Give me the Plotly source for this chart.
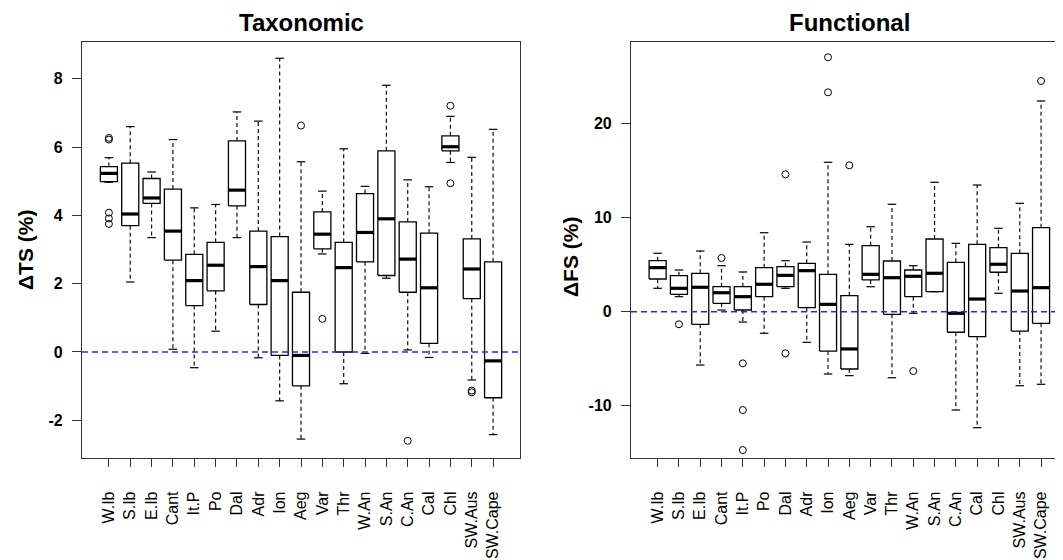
import plotly.graph_objects as go

regions = ["W.Ib", "S.Ib", "E.Ib", "Cant", "It.P", "Po", "Dal", "Adr", "Ion", "Aeg",
           "Var", "Thr", "W.An", "S.An", "C.An", "Cal", "Chl", "SW.Aus", "SW.Cape"]

# taxonomic change (%), box stats
tax_low = [4.97, 2.05, 3.35, 0.08, -0.46, 0.61, 3.35, -0.17, -1.43, -2.55,
           2.87, -0.93, -0.04, 2.16, 0.06, -0.16, 5.55, -0.82, -2.42]
tax_q1 = [4.99, 3.70, 4.35, 2.69, 1.36, 1.79, 4.28, 1.39, -0.10, -0.99,
          3.02, 0.00, 2.64, 2.24, 1.75, 0.25, 5.89, 1.56, -1.34]
tax_med = [5.23, 4.04, 4.51, 3.54, 2.09, 2.54, 4.74, 2.50, 2.09, -0.10,
           3.45, 2.47, 3.50, 3.90, 2.72, 1.88, 6.01, 2.43, -0.26]
tax_q3 = [5.43, 5.53, 5.08, 4.77, 2.86, 3.21, 6.18, 3.54, 3.38, 1.75,
          4.10, 3.21, 4.64, 5.89, 3.81, 3.48, 6.33, 3.31, 2.64]
tax_high = [5.69, 6.60, 5.27, 6.22, 4.22, 4.32, 7.03, 6.76, 8.60, 5.57,
            4.71, 5.95, 4.85, 7.81, 5.04, 4.84, 6.90, 5.70, 6.52]
tax_out = [[6.22, 6.27, 4.08, 3.91, 3.75], [], [], [], [], [], [], [], [], [6.63],
           [0.97], [], [], [], [-2.6], [], [7.21, 4.94], [-1.13, -1.18], []]
tax_ticks = [-2, 0, 2, 4, 6, 8]
tax_ticktext = ["-2", "0", "2", "4", "6", "8"]

# functional change (%)
fun_low = [2.49, 1.60, -5.68, 0.18, -1.10, -2.30, 2.49, -3.26, -6.64, -6.81,
           2.66, -7.03, -0.17, 2.13, -10.47, -12.35, 1.96, -7.88, -7.73]
fun_q1 = [3.48, 1.85, -1.34, 0.89, 0.18, 1.60, 2.66, 0.43, -4.19, -6.10,
          3.38, -0.28, 1.60, 2.13, -2.19, -2.66, 4.20, -2.06, -1.24]
fun_med = [4.69, 2.49, 2.60, 2.02, 1.60, 2.92, 3.87, 4.37, 0.78, -3.97,
           3.98, 3.62, 3.77, 4.09, -0.17, 1.35, 5.05, 2.20, 2.56]
fun_q3 = [5.43, 3.84, 4.09, 2.66, 2.66, 4.69, 4.79, 5.15, 3.98, 1.71,
          7.03, 5.40, 4.44, 7.74, 5.26, 7.17, 6.82, 6.22, 8.95]
fun_high = [6.22, 4.44, 6.46, 4.90, 4.23, 8.41, 5.43, 7.42, 15.91, 7.17,
            9.05, 11.44, 4.90, 13.78, 7.28, 13.49, 8.88, 11.54, 22.44]
fun_out = [[], [-1.34], [], [5.72], [-5.50, -10.47, -14.73], [], [14.63, -4.43], [],
           [27.09, 23.36], [15.59], [], [], [-6.32], [], [], [], [], [], [24.57]]
fun_ticks = [-10, 0, 10, 20]
fun_ticktext = ["-10", "0", "10", "20"]

FONT = "Liberation Sans, Arial, sans-serif"
half = 0.4   # half box width
cap = 0.2    # half staple width


def box_traces(low, q1, med, q3, high, outs, xa, ya):
    wx, wy, cx, cy, bx, by, mx, my, ox, oy = [], [], [], [], [], [], [], [], [], []
    for i in range(len(regions)):
        p = i + 1
        wx += [p, p, None, p, p, None]
        wy += [q3[i], high[i], None, q1[i], low[i], None]
        cx += [p - cap, p + cap, None, p - cap, p + cap, None]
        cy += [high[i], high[i], None, low[i], low[i], None]
        bx += [p - half, p + half, p + half, p - half, p - half, None]
        by += [q1[i], q1[i], q3[i], q3[i], q1[i], None]
        mx += [p - half, p + half, None]
        my += [med[i], med[i], None]
        for o in outs[i]:
            ox.append(p)
            oy.append(o)
    common = dict(xaxis=xa, yaxis=ya, showlegend=False, hoverinfo="skip")
    return [
        go.Scatter(x=wx, y=wy, mode="lines", line=dict(color="#111", width=1.2, dash="4px,3px"), **common),
        go.Scatter(x=cx, y=cy, mode="lines", line=dict(color="black", width=1.2), **common),
        go.Scatter(x=bx, y=by, mode="lines", line=dict(color="black", width=1.3), **common),
        go.Scatter(x=mx, y=my, mode="lines", line=dict(color="black", width=3.2), **common),
        go.Scatter(x=ox, y=oy, mode="markers",
                   marker=dict(symbol="circle-open", size=7, color="black", line=dict(width=1)), **common),
    ]


fig = go.Figure()
for t in box_traces(tax_low, tax_q1, tax_med, tax_q3, tax_high, tax_out, "x", "y"):
    fig.add_trace(t)
for t in box_traces(fun_low, fun_q1, fun_med, fun_q3, fun_high, fun_out, "x2", "y2"):
    fig.add_trace(t)

# the page body adds an 8px margin, so the figure is laid out 8px smaller
W, H = 1055, 552
ydom = [1 - 450 / H, 1 - 34 / H]
xtick = dict(tickmode="array", tickvals=list(range(1, 20)), ticktext=regions, tickangle=-90,
             ticks="outside", ticklen=8, tickcolor="#333", showline=True, linecolor="#333",
             linewidth=1.2, showgrid=False, zeroline=False,
             tickfont=dict(family=FONT, size=16, color="black"), ticklabelstandoff=18)
ytick = dict(ticks="outside", ticklen=9, tickcolor="#333", showline=True, linecolor="#333",
             linewidth=1.2, showgrid=False, zeroline=False, tickmode="array",
             tickfont=dict(family=FONT, size=16, color="black", weight="bold"), ticklabelstandoff=6)

fig.update_layout(
    width=W, height=H, autosize=False,
    margin=dict(l=0, r=0, t=0, b=0),
    plot_bgcolor="white", paper_bgcolor="white",
    xaxis=dict(domain=[74 / W, 512 / W], range=[-0.26, 20.26], mirror=True, anchor="y", **xtick),
    yaxis=dict(domain=ydom, range=[-3.104, 9.077], tickvals=tax_ticks, ticktext=tax_ticktext,
               mirror=True, anchor="x", **ytick),
    xaxis2=dict(domain=[623 / W, 1.0], range=[-0.25, 20.03], mirror=True, anchor="y2", **xtick),
    yaxis2=dict(domain=ydom, range=[-15.58, 28.72], tickvals=fun_ticks, ticktext=fun_ticktext,
                anchor="x2", **ytick),
)

# zero reference lines
for xr, yr in [("x domain", "y"), ("x2 domain", "y2")]:
    fig.add_shape(type="line", xref=xr, yref=yr, x0=0, x1=1, y0=0, y1=0,
                  line=dict(color="#2424ff", width=1.5, dash="6px,4px"))

titles = [("Taxonomic", 293 / W), ("Functional", 841.5 / W)]
for txt, xp in titles:
    fig.add_annotation(text=txt, x=xp, y=1.0, xref="paper", yref="paper", showarrow=False,
                       xanchor="center", yanchor="top", borderpad=0,
                       font=dict(family=FONT, size=24, color="black", weight="bold"))

ylabels = [("ΔTS (%)", 18 / W, 1 - 242 / H), ("ΔFS (%)", 562 / W, 1 - 249 / H)]
for txt, xp, yp in ylabels:
    fig.add_annotation(text=txt, x=xp, y=yp, xref="paper", yref="paper", showarrow=False,
                       textangle=-90, xanchor="center", yanchor="middle",
                       font=dict(family=FONT, size=21, color="black", weight="bold"))

fig.write_html("out.html")
